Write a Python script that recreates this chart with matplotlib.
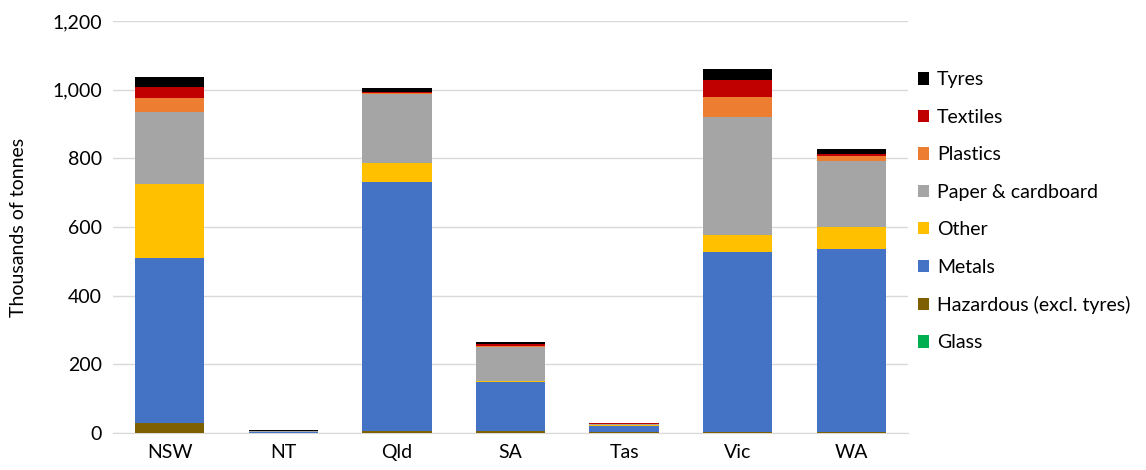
import numpy as np
import matplotlib.pyplot as plt
from matplotlib.ticker import FuncFormatter
from matplotlib.patches import Patch

plt.rcParams['font.family'] = ['Lato', 'DejaVu Sans']

states = ['NSW', 'NT', 'Qld', 'SA', 'Tas', 'Vic', 'WA']

# thousands of tonnes
glass = [1, 0, 1, 1, 0, 1, 1]
hazardous = [29, 1, 5, 5, 2, 3, 3]
metals = [481, 2, 724, 144, 17, 523, 532]
other = [215, 0, 57, 2, 3, 49, 64]
paper = [208, 3, 199, 99, 4, 343, 193]
plastics = [42, 0, 5, 2, 1, 59, 13]
textiles = [33, 0, 3, 5, 2, 49, 7]
tyres = [28, 4, 12, 8, 1, 33, 14]

series = [
    ('Glass', glass, '#00b050'),
    ('Hazardous (excl. tyres)', hazardous, '#7f6000'),
    ('Metals', metals, '#4472c4'),
    ('Other', other, '#ffc000'),
    ('Paper & cardboard', paper, '#a5a5a5'),
    ('Plastics', plastics, '#ed7d31'),
    ('Textiles', textiles, '#c00000'),
    ('Tyres', tyres, '#000000'),
]

fig = plt.figure(figsize=(11.46, 4.70), dpi=100)
ax = fig.add_axes([113 / 1146, 37 / 470, 795 / 1146, 412 / 470])

x = np.arange(len(states))
bottom = np.zeros(len(states))
for name, vals, col in series:
    ax.bar(x, vals, 0.61, bottom=bottom, color=col, zorder=3)
    bottom += np.array(vals)

ax.set_xlim(-0.5, len(states) - 0.5)
ax.set_ylim(0, 1200)
ax.set_yticks(range(0, 1201, 200))
ax.yaxis.set_major_formatter(FuncFormatter(lambda v, p: f'{int(v):,}'))
ax.set_xticks(x)
ax.set_xticklabels(states)
ax.grid(axis='y', color='#d9d9d9', linewidth=1, zorder=0)
for s in ['top', 'right', 'left']:
    ax.spines[s].set_visible(False)
ax.spines['bottom'].set_color('#d9d9d9')
ax.tick_params(length=0, labelsize=14, colors='#000000', pad=8)
ax.set_ylabel('Thousands of tonnes', fontsize=14, labelpad=18)

handles = [Patch(facecolor=c, label=n) for n, v, c in reversed(series)]
ax.legend(handles=handles, loc='upper left', bbox_to_anchor=(0.99, 0.92),
          frameon=False, fontsize=14, handlelength=0.6, handleheight=0.6,
          handletextpad=0.4, labelspacing=1.05)

fig.savefig('out.png', dpi=100)
